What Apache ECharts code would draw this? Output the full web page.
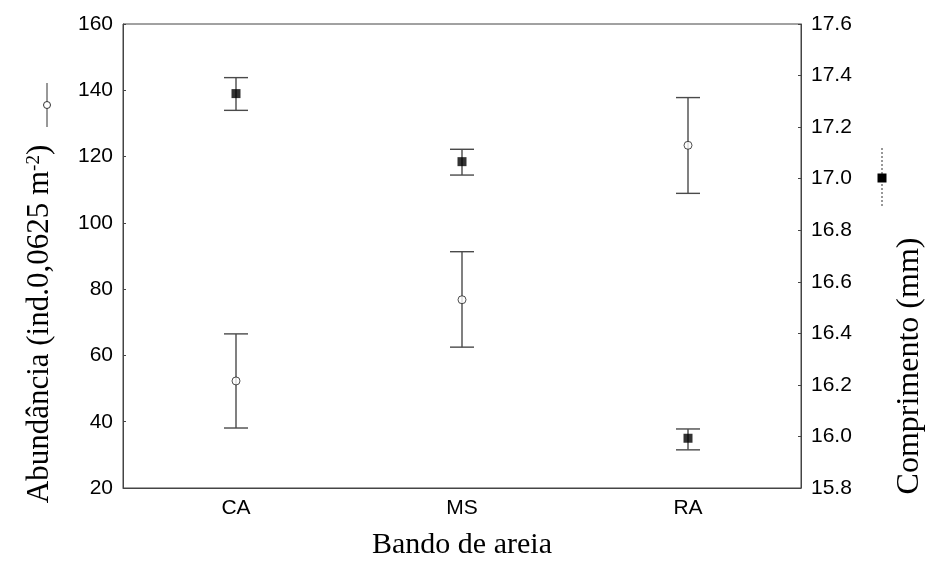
<!DOCTYPE html>
<html>
<head>
<meta charset="utf-8">
<script src="https://cdn.jsdelivr.net/npm/echarts@6/dist/echarts.min.js"></script>
<style>
  html, body { margin: 0; padding: 0; background: #fff; }
  #chart { width: 932px; height: 575px; }
</style>
</head>
<body>
<div id="chart"></div>
<script>
const categories = ['CA', 'MS', 'RA'];

// abundância (eixo esquerdo), média e limites da barra de erro
const abundMean = [52.3, 76.8, 123.4];
const abundLow = [38.1, 62.5, 108.9];
const abundHigh = [66.5, 91.3, 137.8];

// comprimento (eixo direito)
const lenMean = [17.33, 17.066, 15.993];
const lenLow = [17.265, 17.014, 15.948];
const lenHigh = [17.392, 17.114, 16.029];

const leftTicks = [20, 160, 20];     // min, max, interval
const rightTicks = [15.8, 17.6, 0.2];

const sansFont = '"Liberation Sans", Arial, sans-serif';
const serifFont = '"Liberation Serif", "Times New Roman", serif';
const axisColor = '#444';

function errorBar(params, api) {
  const x = api.value(0);
  const lo = api.coord([x, api.value(1)]);
  const hi = api.coord([x, api.value(2)]);
  const w = 12;
  const style = { stroke: '#4a4a4a', lineWidth: 1.4 };
  return {
    type: 'group',
    children: [
      { type: 'line', shape: { x1: lo[0], y1: lo[1], x2: hi[0], y2: hi[1] }, style: style },
      { type: 'line', shape: { x1: hi[0] - w, y1: hi[1], x2: hi[0] + w, y2: hi[1] }, style: style },
      { type: 'line', shape: { x1: lo[0] - w, y1: lo[1], x2: lo[0] + w, y2: lo[1] }, style: style }
    ]
  };
}

const chart = echarts.init(document.getElementById('chart'));

const option = {
  animation: false,
  grid: {
    left: 123, right: 131, top: 24, bottom: 87,
    show: true, borderColor: axisColor, borderWidth: 1
  },
  xAxis: {
    type: 'category',
    data: categories,
    boundaryGap: true,
    axisLine: { lineStyle: { color: axisColor } },
    axisTick: { inside: true, length: 3, alignWithLabel: true, lineStyle: { color: axisColor } },
    axisLabel: { color: '#000', fontFamily: sansFont, fontSize: 21, margin: 10 },
    splitLine: { show: false }
  },
  yAxis: [
    {
      type: 'value',
      min: leftTicks[0], max: leftTicks[1], interval: leftTicks[2],
      axisLine: { show: true, lineStyle: { color: axisColor } },
      axisTick: { show: true, inside: true, length: 3, lineStyle: { color: axisColor } },
      axisLabel: { color: '#000', fontFamily: sansFont, fontSize: 21, margin: 10 },
      splitLine: { show: false }
    },
    {
      type: 'value',
      position: 'right',
      min: rightTicks[0], max: rightTicks[1], interval: rightTicks[2],
      axisLine: { show: true, lineStyle: { color: axisColor } },
      axisTick: { show: true, inside: true, length: 3, lineStyle: { color: axisColor } },
      axisLabel: {
        color: '#000', fontFamily: sansFont, fontSize: 21, margin: 10,
        formatter: v => v.toFixed(1)
      },
      splitLine: { show: false }
    }
  ],
  series: [
    {
      name: 'abund-err',
      type: 'custom',
      yAxisIndex: 0,
      renderItem: errorBar,
      data: categories.map((c, i) => [i, abundLow[i], abundHigh[i]]),
      z: 2
    },
    {
      name: 'len-err',
      type: 'custom',
      yAxisIndex: 1,
      renderItem: errorBar,
      data: categories.map((c, i) => [i, lenLow[i], lenHigh[i]]),
      z: 2
    },
    {
      name: 'Abundância',
      type: 'scatter',
      yAxisIndex: 0,
      symbol: 'circle',
      symbolSize: 8,
      itemStyle: { color: '#fff', borderColor: '#222', borderWidth: 1 },
      data: categories.map((c, i) => [i, abundMean[i]]),
      z: 5
    },
    {
      name: 'Comprimento',
      type: 'scatter',
      yAxisIndex: 1,
      symbol: 'rect',
      symbolSize: 9,
      itemStyle: { color: '#000' },
      data: categories.map((c, i) => [i, lenMean[i]]),
      z: 5
    }
  ],
  graphic: [
    {
      type: 'text',
      x: 462, y: 545,
      style: {
        text: 'Bando de areia',
        font: '30px ' + serifFont,
        fill: '#000',
        align: 'center',
        verticalAlign: 'middle'
      }
    },
    {
      type: 'text',
      x: 40, y: 324,
      rotation: Math.PI / 2,
      style: {
        text: '{n|Abundância (ind.0,0625 m}{s|-2}{n|)}',
        fill: '#000',
        align: 'center',
        verticalAlign: 'middle',
        rich: {
          n: { fontFamily: serifFont, fontSize: 31, fill: '#000' },
          s: { fontFamily: serifFont, fontSize: 19, fill: '#000', verticalAlign: 'top', padding: [0, 0, 12, 0] }
        }
      }
    },
    {
      type: 'text',
      x: 910, y: 366,
      rotation: Math.PI / 2,
      style: {
        text: 'Comprimento (mm)',
        font: '32px ' + serifFont,
        fill: '#000',
        align: 'center',
        verticalAlign: 'middle'
      }
    },
    // símbolo de legenda junto ao título esquerdo
    { type: 'line', shape: { x1: 47, y1: 83, x2: 47, y2: 127 }, style: { stroke: '#333', lineWidth: 1 } },
    { type: 'circle', shape: { cx: 47, cy: 105, r: 3.5 }, style: { fill: '#fff', stroke: '#333', lineWidth: 1 } },
    // símbolo de legenda junto ao título direito
    { type: 'line', shape: { x1: 882, y1: 148, x2: 882, y2: 206 }, style: { stroke: '#333', lineWidth: 1, lineDash: [2, 2] } },
    { type: 'rect', shape: { x: 877.5, y: 173.5, width: 9, height: 9 }, style: { fill: '#000' } }
  ]
};

chart.setOption(option);
</script>
</body>
</html>
